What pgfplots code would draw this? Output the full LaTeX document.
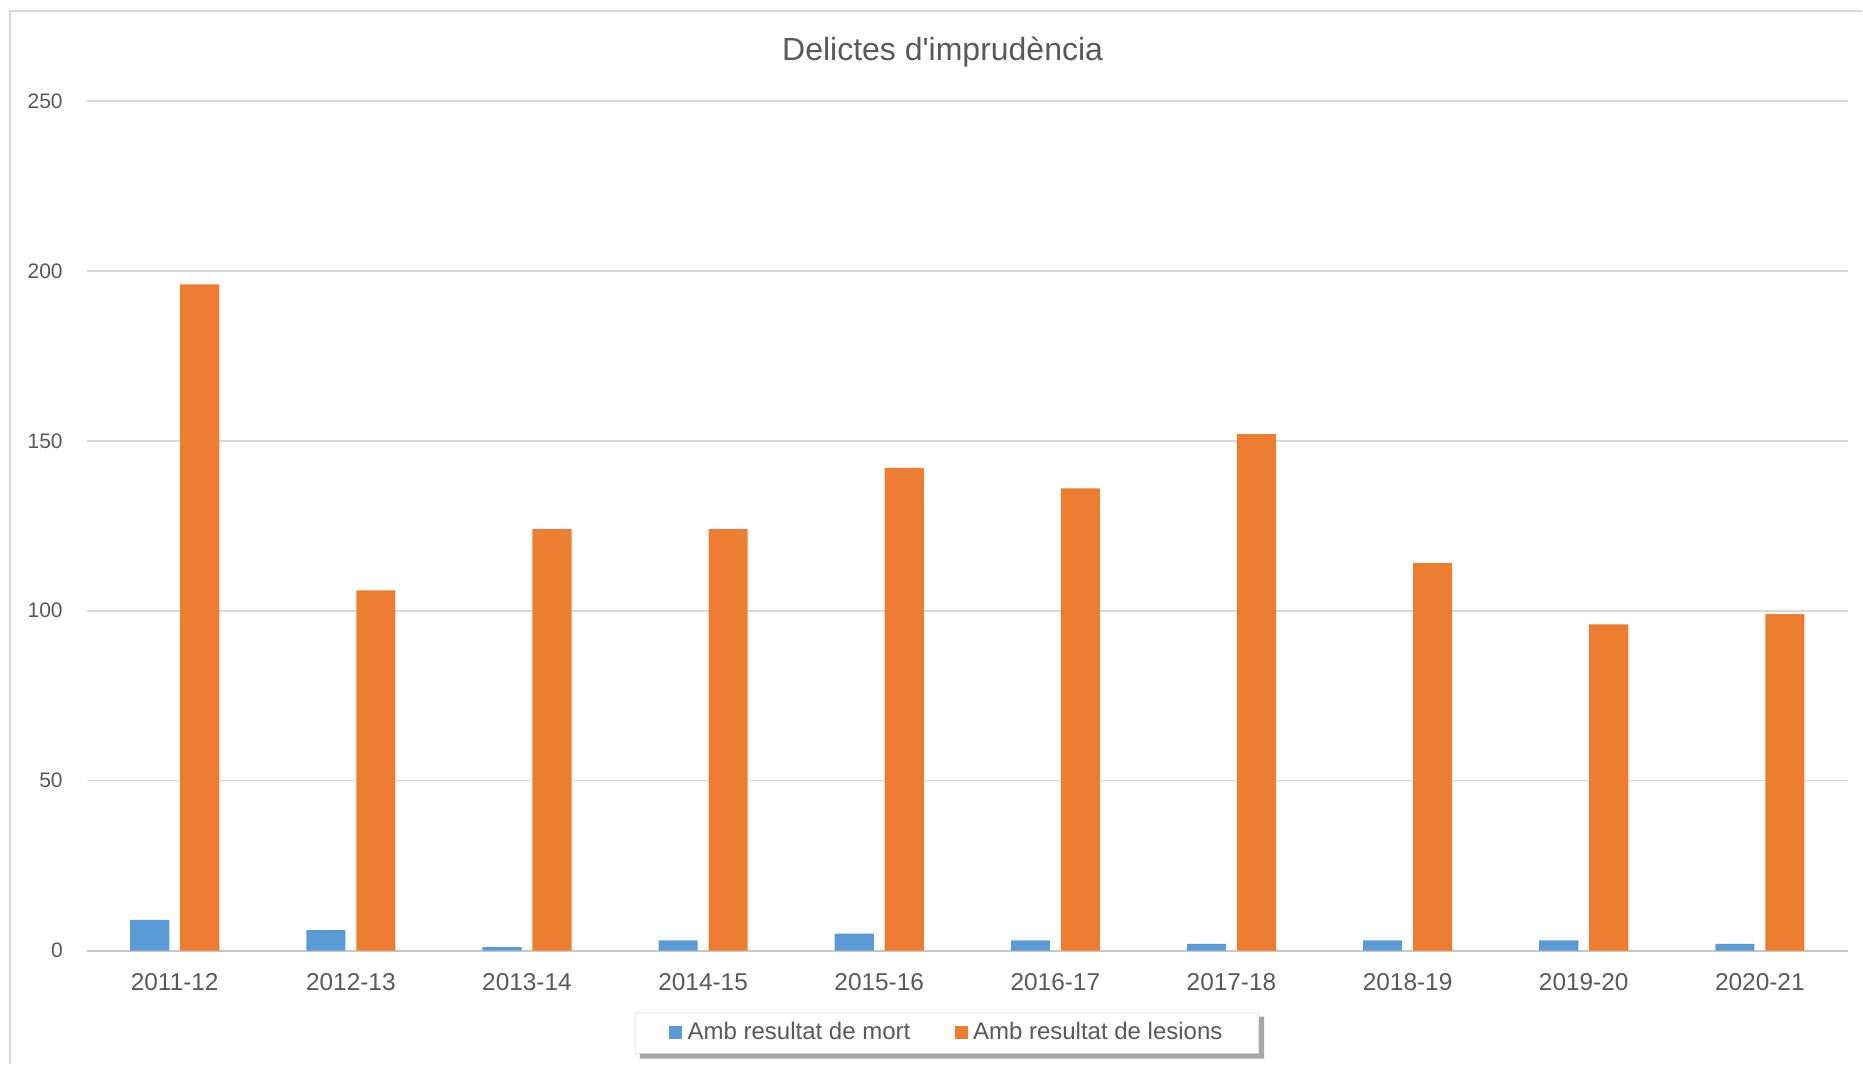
\documentclass[border=0pt]{standalone}
\usepackage{pgfplots}
\pgfplotsset{compat=1.18}
\usepackage{fontspec}
\setmainfont{Liberation Sans}
\definecolor{cblue}{HTML}{5B9BD5}
\definecolor{corange}{HTML}{ED7D31}
\definecolor{ctext}{HTML}{595959}
\definecolor{cgrid}{HTML}{D9D9D9}
\begin{document}
\begin{tikzpicture}
\path (0pt,0pt) rectangle (931.5pt,532pt);
\draw[cgrid, line width=0.8pt] (5pt,0pt) -- (5pt,526.5pt) -- (931.5pt,526.5pt);
\begin{axis}[
  at={(43.35pt,56.5pt)}, anchor=south west,
  scale only axis, width=881pt, height=425pt,
  ybar, bar width=19.6pt,
  xmin=-0.5, xmax=9.5, ymin=0, ymax=250,
  enlargelimits=false,
  xtick={0,...,9},
  xticklabels={2011-12,2012-13,2013-14,2014-15,2015-16,2016-17,2017-18,2018-19,2019-20,2020-21},
  ytick={0,50,100,150,200,250},
  ymajorgrids, grid style={cgrid, line width=0.8pt},
  axis x line*=bottom, axis y line*=left,
  x axis line style={color=black!22, line width=1pt, -},
  y axis line style={draw=none},
  tick style={draw=none},
  /pgf/number format/assume math mode=true,
  xticklabel style={font=\fontsize{12.2}{14}\selectfont, text=ctext, anchor=center, inner sep=0pt, yshift=-11.5pt},
  yticklabel style={font=\fontsize{10.5}{12}\selectfont, text=ctext, anchor=east, inner sep=0pt, xshift=-11.8pt},
  title={Delictes d\textquotesingle imprudència},
  title style={font=\fontsize{16}{19}\selectfont, text=ctext, at={(0.486,1.043)}, anchor=center},
  legend columns=2,
  legend style={name=leg, at={(0.4885,-0.0965)}, anchor=center, font=\fontsize{12}{14}\selectfont, text=ctext,
    draw=black!8, fill=white, inner xsep=17pt, inner ysep=4pt,
    nodes={inner sep=1.2pt},
    /tikz/every odd column/.append style={column sep=1.5pt},
    /tikz/every even column/.append style={column sep=21pt}},
  legend image code/.code={\fill[#1] (0pt,-3.2pt) rectangle (6.5pt,3.3pt);},
]
\addplot[fill=cblue, draw=none, bar shift=-12.5pt] coordinates {(0,9) (1,6) (2,1) (3,3) (4,5) (5,3) (6,2) (7,3) (8,3) (9,2)};
\addplot[fill=corange, draw=none, bar shift=12.5pt] coordinates {(0,196) (1,106) (2,124) (3,124) (4,142) (5,136) (6,152) (7,114) (8,96) (9,99)};
\legend{Amb resultat de mort, Amb resultat de lesions}
\end{axis}
\fill[black!35] ([xshift=2.5pt]leg.south west) -- ([xshift=2.5pt,yshift=-2.5pt]leg.south west)
  -- ([xshift=2.5pt,yshift=-2.5pt]leg.south east) -- ([xshift=2.5pt,yshift=-2.5pt]leg.north east)
  -- ([yshift=-2.5pt]leg.north east) -- (leg.south east) -- cycle;
\end{tikzpicture}
\end{document}
